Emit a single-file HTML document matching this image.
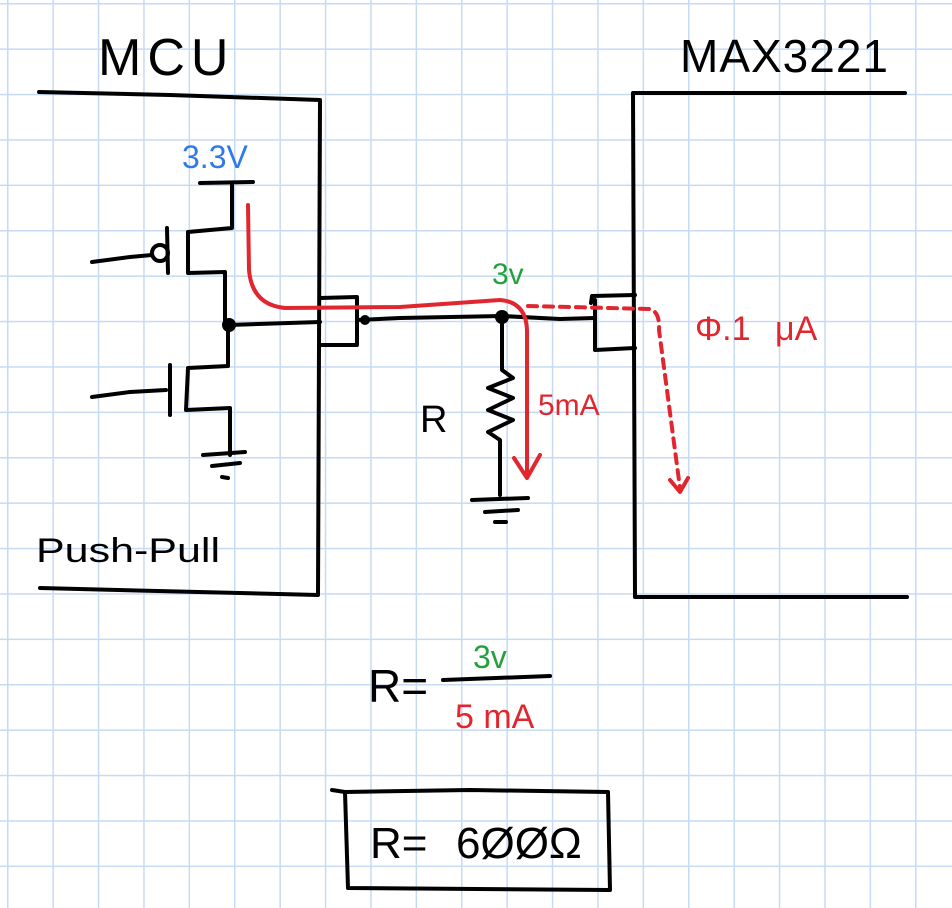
<!DOCTYPE html>
<html><head><style>
html,body{margin:0;padding:0;background:#fff}
svg{display:block}
text{font-family:"Liberation Sans",sans-serif}
</style></head><body>
<svg width="952" height="908" viewBox="0 0 952 908" xmlns="http://www.w3.org/2000/svg">
<defs>
<pattern id="g" x="7" y="3" width="45.4" height="45.4" patternUnits="userSpaceOnUse">
<path d="M0 0V45.4M0 0H45.4" stroke="#c6daf4" stroke-width="3" fill="none"/>
</pattern>
</defs>
<rect width="952" height="908" fill="#fff"/>
<rect width="952" height="908" fill="url(#g)"/>
<g fill="none" stroke="#000" stroke-width="4" stroke-linecap="round" stroke-linejoin="round">
<path d="M39 92 L170 95 L320 100 L318 595 L40 588"/>
<path d="M905 93 L633 93 L635 597 L907 597"/>
<path d="M200 183 L253 182"/>
<path d="M232 183 L232 228 L188 232 L188 273 L225 272 L225 325"/>
<path d="M167 228 L168 273"/>
<circle cx="160" cy="253" r="8"/>
<path d="M92 262 L130 257 L152 255"/>
<path d="M228 325 L228 366 L188 368 L186 410 L230 408 L230 455"/>
<path d="M170 365 L170 415"/>
<path d="M92 397 L130 392 L166 390"/>
<path d="M203 455 L245 452 M212 466 L240 463 M222 477 L228 478"/>
<path d="M229 325 L320 322"/>
<path d="M320 298 L357 297 L357 345 L320 345"/>
<path d="M357 320 L400 318 L502 316 L560 319 L595 318"/>
<path d="M635 295 L592 296 L591 303 M595 300 L595 350 L635 348"/>
<path d="M502 318 L502 370 L513 378 L488 388 L513 398 L488 410 L513 420 L488 432 L500 440 L500 495"/>
<path d="M472 500 L528 498 M485 512 L518 510 M495 522 L506 522"/>
<path d="M345 792 L470 790 L608 792 L610 890 L348 888 Z"/>
<path d="M332 790 L345 792"/>
<path d="M443 680 L550 676"/>
</g>
<circle cx="229" cy="325" r="7"/>
<circle cx="365" cy="320" r="5"/>
<circle cx="502" cy="317" r="7"/>
<g fill="none" stroke="#e0262e" stroke-width="4" stroke-linecap="round" stroke-linejoin="round">
<path d="M248 205 L249 270 Q252 305 285 308 L400 307 L500 300 Q526 302 527 330 L527 475"/>
<path d="M514 458 L527 478 L540 455"/>
<path d="M528 306 L650 309 Q660 312 659 330 L680 488" stroke-dasharray="9,7"/>
<path d="M670 480 L680 492 L688 478"/>
</g>
<text x="98" y="75" font-size="52" letter-spacing="6">MCU</text>
<text x="680" y="72" font-size="46" letter-spacing="1">MAX3221</text>
<text x="182" y="168" font-size="32" fill="#2e7ae6">3.3V</text>
<text x="492" y="284" font-size="30" fill="#23a23c">3v</text>
<text x="538" y="415" font-size="30" fill="#e0262e">5mA</text>
<text x="420" y="432" font-size="38" fill="#000">R</text>
<text x="695" y="340" font-size="34" fill="#e0262e">Φ.1</text>
<text x="775" y="340" font-size="34" fill="#e0262e">μA</text>
<text x="36" y="562" font-size="34" textLength="184" lengthAdjust="spacingAndGlyphs">Push-Pull</text>
<text x="368" y="702" font-size="46">R=</text>
<text x="473" y="668" font-size="32" fill="#23a23c">3v</text>
<text x="455" y="728" font-size="34" fill="#e0262e">5 mA</text>
<text x="370" y="858" font-size="44">R=</text>
<text x="456" y="858" font-size="44">6ØØΩ</text>
</svg>
</body></html>
